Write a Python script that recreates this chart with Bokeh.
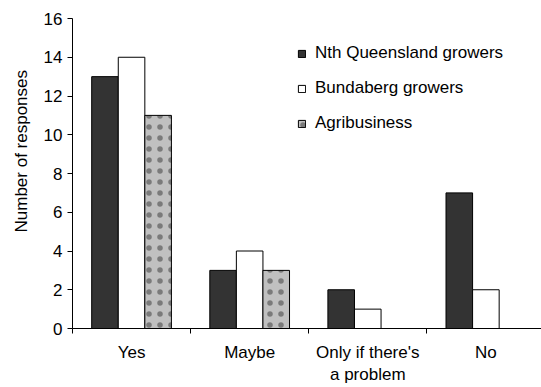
from bokeh.plotting import figure
from bokeh.models import ColumnDataSource, Range1d, FixedTicker, Legend, LegendItem, Title
from bokeh.transform import dodge
from bokeh.embed import file_html
from bokeh.resources import INLINE

# Survey responses by group
categories = ["Yes", "Maybe", "Only if there's\na problem", "No"]
nq_growers = [13, 3, 2, 7]
bundaberg_growers = [14, 4, 1, 2]
agribusiness = [11, 3, 0, 0]
series_names = ["Nth Queensland growers", "Bundaberg growers", "Agribusiness"]
y_ticks = [0, 2, 4, 6, 8, 10, 12, 14, 16]

FONT = "Liberation Sans"
FS = "17px"

centers = [i + 0.5 for i in range(len(categories))]
src = ColumnDataSource(dict(x=centers, nq=nq_growers, bund=bundaberg_growers, agri=agribusiness))

p = figure(width=541, height=387, output_backend="svg", toolbar_location=None,
           x_range=Range1d(0, 3.971), y_range=Range1d(0, 16),
           min_border_left=72, min_border_right=0, min_border_top=18, min_border_bottom=59)
p.outline_line_color = None
p.xgrid.visible = False
p.ygrid.visible = False
p.background_fill_color = "white"
p.border_fill_color = "white"

bw = 0.225
bar_line = dict(line_color="black", line_width=1)
r1 = p.vbar(x=dodge("x", -bw, range=p.x_range), top="nq", width=bw, source=src,
            fill_color="#333333", **bar_line)
r2 = p.vbar(x=dodge("x", 0, range=p.x_range), top="bund", width=bw, source=src,
            fill_color="white", **bar_line)
r3 = p.vbar(x=dodge("x", bw, range=p.x_range), top="agri", width=bw, source=src,
            fill_color="#c0c0c0", hatch_pattern="dot", hatch_scale=11, hatch_weight=0.5,
            hatch_color="#7a7a7a", **bar_line)

# category axis: boundary ticks, labels centred in each band
xa = p.xaxis[0]
xa.ticker = FixedTicker(ticks=centers, minor_ticks=[0, 1, 2, 3, 4])
xa.major_label_overrides = {c: lab for c, lab in zip(centers, categories)}
xa.major_tick_line_color = None
xa.major_tick_out = 0
xa.minor_tick_in = 0
xa.minor_tick_out = 5
xa.minor_tick_line_color = "black"
xa.axis_line_color = "black"
xa.major_label_text_font = FONT
xa.major_label_text_font_size = FS
xa.major_label_text_color = "black"
xa.major_label_standoff = 9

ya = p.yaxis[0]
ya.ticker = FixedTicker(ticks=y_ticks)
ya.major_tick_in = 0
ya.major_tick_out = 5
ya.minor_tick_line_color = None
ya.axis_line_color = "black"
ya.major_tick_line_color = "black"
ya.major_label_text_font = FONT
ya.major_label_text_font_size = FS
ya.major_label_text_color = "black"
ya.major_label_standoff = 5

# y title, set a little above the middle of the value axis
p.add_layout(Title(text="Number of responses", align="left", offset=96, standoff=16,
                   vertical_align="top",
                   text_font=FONT, text_font_size=FS, text_font_style="normal",
                   text_color="black"), "left")

legend = Legend(items=[LegendItem(label=n, renderers=[r]) for n, r in zip(series_names, [r1, r2, r3])],
                location=(225, 195), border_line_color=None, background_fill_alpha=0,
                glyph_width=9, glyph_height=9, label_standoff=9, spacing=15,
                padding=0, margin=0, label_height=20,
                label_text_font=FONT, label_text_font_size=FS, label_text_color="black")
p.add_layout(legend)

open("out.html", "w").write(file_html(p, INLINE))
